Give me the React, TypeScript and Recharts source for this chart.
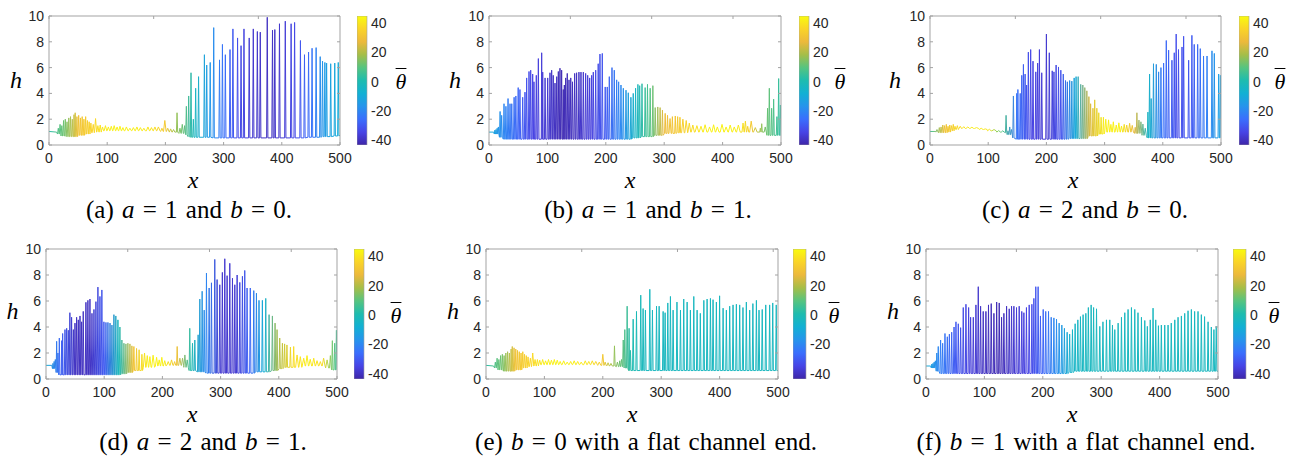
import React from "react";
import { LineChart, Line, XAxis, YAxis, BarChart, Bar } from "recharts";

type Pair = [number, number];

// ---- values ----
const xTicks = [0, 100, 200, 300, 400, 500];
const hTicks = [0, 2, 4, 6, 8, 10];
const cbTicks = [-40, -20, 0, 20, 40];
const cbRange: Pair = [-43.5, 45];

// positions where the colour (theta bar) is sampled along x
const thetaX = [0, 25, 50, 75, 100, 125, 150, 175, 200, 225, 250, 275, 300, 325, 350, 375, 400, 425, 450, 475, 500];

// (a) a = 1, b = 0
const aStart: Pair[] = [[0, 1.05], [13, 1.0]];
const aEnd: Pair[] = [[500, 0.75]];
const aBase: Pair[] = [[0, 1.0], [15, 0.85], [22, 0.7], [30, 0.65], [50, 0.75], [62, 0.85], [70, 0.95], [80, 1.0], [90, 1.1], [190, 1.05], [205, 1.0], [225, 0.9], [234, 0.8], [240, 0.65], [244, 0.6], [280, 0.55], [445, 0.6], [470, 0.65], [488, 0.7]];
const aSpikes: Pair[] = [[16, 1.3], [19, 1.6], [22, 1.5], [25, 1.9], [28, 2.0], [31, 1.8], [34, 2.1], [37, 2.2], [40, 2.0], [43, 2.35], [45, 2.5], [48, 2.2], [51, 2.3], [54, 2.1], [57, 2.2], [60, 2.0], [63, 2.2], [66, 1.9], [69, 1.8], [72, 1.7], [76, 1.6], [80, 2.05], [84, 1.5], [88, 1.55], [92, 1.4], [97, 1.5], [102, 1.4], [107, 1.45], [112, 1.5], [117, 1.4], [122, 1.45], [127, 1.35], [133, 1.4], [139, 1.3], [145, 1.35], [151, 1.4], [157, 1.35], [163, 1.3], [170, 1.4], [176, 1.35], [182, 1.4], [188, 1.4], [194, 1.3], [199, 1.9], [204, 1.3], [209, 1.25], [214, 1.2], [220, 2.5], [225, 1.3], [229, 1.6], [233, 1.5], [236, 3.0], [240, 3.8], [244, 5.6], [248, 2.0], [252, 4.4], [257, 5.3], [267, 7.0], [271, 6.2], [277, 6.4], [283, 9.1], [293, 6.6], [298, 7.8], [303, 7.0], [311, 7.4], [316, 9.0], [324, 8.3], [330, 7.7], [335, 9.0], [344, 8.3], [351, 9.0], [358, 8.8], [363, 8.75], [375, 9.9], [384, 8.9], [388, 8.95], [396, 9.4], [406, 9.6], [416, 9.4], [422, 9.5], [432, 8.1], [439, 7.0], [446, 7.2], [452, 7.5], [459, 7.55], [466, 6.85], [470, 6.5], [474, 6.4], [477, 6.35], [484, 6.3], [491, 6.35], [497, 6.4]];
const aTheta = [2, 12, 30, 36, 42, 43, 42, 40, 32, 14, -3, -15, -25, -33, -38, -40, -38, -33, -25, -14, -9];

// (b) a = 1, b = 1
const bStart: Pair[] = [[0, 1.0], [8, 1.0]];
const bEnd: Pair[] = [[500, 0.7]];
const bBase: Pair[] = [[0, 0.95], [9, 0.85], [17, 0.6], [22, 0.45], [245, 0.55], [262, 0.65], [282, 0.75], [300, 0.9], [320, 0.95], [340, 1.0], [474, 0.75]];
const bSpikes: Pair[] = [[10, 1.15], [12, 1.2], [14, 1.3], [16, 1.4], [19, 2.6], [21.7, 2.3], [25.7, 3.2], [29, 3.0], [32.6, 3.6], [36, 3.2], [39, 3.2], [43, 3.7], [46, 3.8], [50, 4.45], [53, 4.3], [57.7, 3.7], [61.6, 4.1], [64.5, 5.2], [68.5, 5.7], [71.4, 5.8], [74.8, 5.5], [77, 4.9], [81, 5.4], [84.5, 6.7], [90.2, 7.15], [92, 5.65], [96, 5.2], [100.5, 5.2], [104.4, 5.6], [107.3, 5.8], [110, 5.4], [113, 4.8], [116, 5.3], [118.7, 5.7], [121.5, 5.95], [124.4, 5.8], [127.2, 4.3], [129, 4.65], [131.3, 5.2], [134, 5.55], [137, 5.05], [140, 5.2], [143, 4.9], [146.7, 5.55], [150, 5.6], [154, 5.65], [157.5, 5.65], [161.5, 5.65], [165.5, 5.55], [169, 5.4], [172.4, 5.2], [175.8, 5.4], [178.6, 5.65], [182.7, 5.8], [187, 6.3], [190, 7.05], [194, 7.1], [199, 4.5], [202.5, 4.5], [206, 5.3], [210.6, 6.0], [214.5, 5.8], [218.6, 5.05], [222, 4.9], [226, 4.65], [230, 4.4], [234.6, 4.25], [238.5, 4.05], [243, 3.7], [247, 4.0], [251, 4.4], [255, 4.7], [258, 4.6], [262, 4.75], [267.4, 4.45], [271.4, 4.7], [276, 4.4], [280.6, 4.6], [284.6, 2.9], [289, 2.95], [293, 2.9], [297, 2.7], [301.7, 2.45], [305.7, 2.3], [310, 2.05], [314, 2.2], [319, 2.25], [323, 2.2], [327, 2.15], [332, 2.0], [337.7, 1.9], [343, 1.7], [349, 1.55], [356, 1.5], [363, 1.45], [370, 1.57], [377.7, 1.4], [384.6, 1.57], [391, 1.4], [399, 1.6], [406, 1.4], [413, 1.55], [420, 1.4], [427, 1.55], [435, 1.7], [439, 1.85], [443, 1.45], [449, 1.85], [456, 1.35], [464.6, 1.3], [467, 1.65], [473, 1.4], [477, 2.85], [480, 4.4], [484, 2.85], [487.4, 3.55], [493, 2.2], [496, 5.15], [499, 3.1]];
const bTheta = [-8, -20, -28, -35, -38, -42, -40, -36, -30, -20, -5, 8, 28, 33, 38, 43, 43, 42, 32, 12, 3];

// (c) a = 2, b = 0
const cStart: Pair[] = [[0, 1.05], [10, 1.05]];
const cEnd: Pair[] = [[500, 0.55]];
const cBase: Pair[] = [[0, 1.0], [14, 0.95], [30, 1.0], [36, 1.1], [42, 1.2], [50, 1.28], [85, 1.2], [100, 1.1], [118, 1.0], [128, 0.95], [133, 0.8], [142, 0.55], [147, 0.45], [238, 0.5], [272, 0.7], [290, 0.85], [300, 1.0], [352, 0.9], [365, 0.75], [374, 0.55]];
const cSpikes: Pair[] = [[12, 1.2], [16, 1.35], [19, 1.4], [22, 1.55], [25, 1.5], [28, 1.6], [31, 1.45], [34, 1.55], [37, 1.5], [40, 1.6], [43, 1.45], [47, 1.5], [52, 1.45], [58, 1.42], [65, 1.4], [72, 1.38], [80, 1.35], [88, 1.3], [95, 1.25], [102, 1.22], [110, 1.2], [118, 1.12], [125, 1.1], [130.7, 2.3], [134, 1.1], [137, 1.4], [140, 1.2], [143.3, 3.8], [149, 4.0], [151, 4.3], [155, 4.0], [157.7, 5.4], [160.5, 6.25], [163.4, 5.5], [166, 4.65], [169, 7.2], [173, 7.4], [177, 6.5], [181.8, 5.67], [185, 6.35], [188, 7.4], [192, 5.6], [200, 8.6], [205, 7.15], [210, 5.75], [213, 5.67], [216.7, 6.2], [220.8, 6.05], [224.8, 5.8], [229, 5.5], [232.8, 5.0], [236, 4.9], [240, 5.0], [243.7, 4.95], [247.7, 5.2], [251, 5.3], [254.6, 5.3], [259, 4.7], [262.6, 4.65], [266, 4.45], [269.5, 4.2], [273, 3.75], [276, 3.2], [280, 2.85], [283, 3.5], [286.7, 2.85], [290, 2.5], [294, 2.15], [298, 2.15], [302, 2.0], [306.8, 1.95], [310.8, 1.6], [315, 1.8], [320, 1.55], [324.5, 1.72], [329, 1.47], [333.7, 1.6], [338, 1.55], [343, 1.68], [347.5, 1.52], [352.6, 1.37], [355.5, 2.5], [359, 1.93], [362.4, 1.8], [365.8, 1.62], [369.8, 1.3], [374.4, 2.55], [377.3, 5.5], [380, 3.6], [384, 6.3], [388.8, 6.25], [392.8, 5.67], [396.8, 6.0], [401.4, 6.35], [406, 8.1], [410, 7.35], [415.7, 6.57], [419.7, 7.15], [423, 8.6], [427, 7.4], [433, 7.6], [435.8, 8.43], [444.4, 6.57], [450, 8.5], [454, 7.8], [459.9, 7.8], [464.4, 7.47], [470, 6.9], [476, 6.9], [484.5, 7.3], [488.5, 7.1], [496, 5.5], [499, 5.4]];
const cTheta = [5, 30, 38, 42, 40, 8, -25, -35, -38, -32, -10, 25, 42, 43, 28, -5, -25, -33, -30, -22, -12];

// (d) a = 2, b = 1
const dStart: Pair[] = [[0, 1.05], [10, 1.05]];
const dEnd: Pair[] = [[500, 0.7]];
const dBase: Pair[] = [[0, 1.0], [11, 0.8], [17, 0.5], [22, 0.32], [128, 0.4], [140, 0.5], [150, 0.65], [165, 0.9], [185, 1.0], [205, 1.05], [235, 0.9], [244, 0.65], [258, 0.55], [272, 0.45], [360, 0.55], [385, 0.65], [398, 0.8], [410, 0.9], [440, 1.0], [480, 0.85], [492, 0.7]];
const dSpikes: Pair[] = [[12, 1.2], [14, 1.35], [16, 1.5], [18.3, 2.9], [20.5, 2.0], [22.9, 3.15], [26.9, 2.95], [28.6, 3.5], [32.6, 3.8], [35.5, 3.9], [38.3, 3.75], [41, 5.1], [44, 4.75], [47, 3.8], [49.8, 4.3], [52.6, 4.75], [55.5, 4.55], [58.4, 4.85], [61.2, 4.4], [64, 5.2], [68.6, 5.9], [72, 6.05], [75.5, 6.15], [79, 5.05], [82.4, 5.35], [85.8, 5.95], [89.2, 7.07], [92.7, 6.35], [96, 6.85], [99.5, 4.4], [103, 4.35], [106.4, 4.35], [110, 4.3], [113.3, 4.15], [116.7, 4.95], [120, 4.85], [123.6, 4.55], [127, 4.0], [130.4, 3.0], [133.9, 2.75], [137.3, 2.7], [140.7, 2.75], [144.2, 2.7], [147.6, 2.55], [151, 2.5], [155.6, 2.35], [160, 2.25], [164.8, 1.9], [169.3, 2.0], [174, 1.8], [178.5, 1.72], [184, 1.83], [190, 1.67], [194.5, 1.47], [199, 1.67], [204, 1.41], [210, 1.34], [215.7, 1.47], [221, 1.34], [225.4, 2.5], [230, 1.6], [234.6, 1.6], [238.6, 1.85], [242.6, 1.47], [247, 3.9], [251.7, 2.75], [255.7, 3.0], [261.4, 3.4], [264.3, 6.15], [268.3, 6.75], [271.8, 5.3], [275.7, 8.15], [280.3, 7.0], [284.3, 7.4], [290, 9.2], [294, 7.65], [298.6, 7.25], [303, 8.2], [307.2, 9.25], [311.2, 7.95], [315.8, 8.9], [320.4, 7.75], [324.4, 7.25], [328.4, 8.0], [333, 7.43], [337.5, 7.9], [341.5, 8.35], [345.5, 7.0], [351, 7.0], [357, 6.8], [361.6, 6.6], [366, 6.05], [371.8, 6.05], [377.6, 6.2], [383.3, 4.95], [389, 4.85], [393.6, 4.3], [397, 3.8], [401.6, 3.15], [406.2, 2.75], [410, 2.7], [414, 2.62], [420, 2.45], [425.6, 2.5], [431.4, 1.85], [437, 1.72], [442.8, 1.6], [448.5, 1.8], [454, 1.52], [460, 1.6], [465.7, 1.41], [471.4, 1.34], [477, 1.6], [483, 1.47], [488.6, 1.8], [492, 2.95], [496, 2.75], [499, 3.75]];
const dTheta = [-8, -28, -40, -40, -30, -2, 30, 42, 43, 30, 0, -20, -38, -38, -28, -8, 20, 38, 42, 38, 5];

// (e) b = 0, flat channel end
const eStart: Pair[] = [[0, 1.05], [13, 1.0]];
const eEnd: Pair[] = [[500, 0.65]];
const eBase: Pair[] = [[0, 1.0], [15, 0.85], [22, 0.7], [30, 0.6], [50, 0.7], [62, 0.85], [70, 0.95], [80, 1.0], [90, 1.1], [190, 1.05], [205, 1.0], [225, 0.95], [236, 0.85], [245, 0.65]];
const eSpikes: Pair[] = [[16, 1.3], [19, 1.6], [22, 1.5], [25, 1.8], [28, 1.9], [31, 1.8], [34, 2.0], [37, 2.1], [40, 2.0], [43, 2.3], [45, 2.5], [48, 2.4], [51, 2.3], [54, 2.2], [57, 2.1], [60, 2.0], [63, 2.1], [66, 1.9], [69, 1.8], [72, 1.7], [76, 1.6], [80, 2.0], [84, 1.5], [88, 1.5], [92, 1.45], [97, 1.5], [102, 1.4], [107, 1.5], [112, 1.45], [117, 1.5], [122, 1.45], [127, 1.35], [133, 1.4], [139, 1.3], [145, 1.35], [151, 1.4], [157, 1.35], [163, 1.3], [170, 1.4], [176, 1.35], [182, 1.4], [188, 1.35], [194, 1.3], [200, 1.9], [204, 1.3], [209, 1.25], [214, 1.2], [220, 2.55], [225, 1.3], [229, 1.4], [232, 1.5], [235, 3.0], [237.7, 3.8], [241.7, 5.6], [245, 3.9], [247.4, 2.2], [252, 4.6], [257.7, 5.2], [265, 6.45], [269, 5.42], [273, 5.3], [280.5, 6.9], [285, 5.3], [292, 5.6], [296.5, 5.6], [303.3, 5.2], [306.7, 5.1], [311.3, 5.85], [315.8, 6.35], [320.4, 5.3], [327, 5.92], [333, 5.3], [338.6, 6.15], [344.4, 5.92], [350, 5.3], [355.8, 6.35], [361.5, 5.3], [367, 5.05], [373, 6.05], [378.6, 6.15], [384.3, 6.2], [388.8, 6.1], [394.5, 5.92], [400, 6.4], [406, 5.45], [411.6, 5.3], [417.3, 5.6], [423, 5.7], [428.7, 5.75], [434.4, 5.7], [440, 5.5], [445.8, 5.92], [451.5, 5.3], [457, 5.8], [463, 6.05], [467.5, 5.3], [473, 5.35], [479, 5.7], [485.7, 5.7], [491, 5.85], [497, 5.7]];
const eTheta = [2, 12, 30, 36, 42, 43, 42, 40, 32, 14, 0, -3, -3, -3, -3, -3, -3, -3, -3, -3, -3];

// (f) b = 1, flat channel end
const fStart: Pair[] = [[0, 1.0], [8, 1.0]];
const fEnd: Pair[] = [[500, 0.6]];
const fBase: Pair[] = [[0, 0.95], [9, 0.85], [17, 0.6], [22, 0.42], [244, 0.5], [252, 0.6]];
const fSpikes: Pair[] = [[10, 1.15], [12, 1.2], [14, 1.3], [16, 1.4], [18.5, 2.0], [21, 2.5], [25, 3.0], [28.5, 2.75], [32.5, 3.5], [36.5, 3.25], [40, 3.45], [44, 3.6], [48, 4.0], [51.3, 4.4], [55.3, 4.25], [59.3, 3.95], [63.8, 5.5], [68.4, 5.75], [73, 5.5], [76.4, 4.75], [81, 4.75], [85.5, 5.7], [89.5, 7.1], [93.5, 5.6], [98, 5.2], [102.6, 5.2], [107, 5.7], [111.7, 5.8], [116.3, 5.05], [121, 5.92], [125.4, 5.85], [129.4, 4.75], [133.4, 5.05], [138, 5.6], [142.5, 5.4], [146.5, 5.6], [150.5, 5.6], [155, 5.5], [159.6, 5.6], [164, 5.2], [167.6, 5.1], [172, 5.5], [176.7, 5.7], [181.3, 5.75], [184.7, 6.2], [188, 7.1], [192, 7.1], [196, 4.85], [200.7, 5.35], [205, 5.2], [209.8, 5.2], [214.4, 4.75], [219, 4.7], [223.5, 4.6], [228, 4.3], [232.6, 4.15], [237, 3.9], [241.7, 3.6], [246, 3.45], [250.8, 3.8], [255.4, 4.25], [260, 4.55], [264.5, 4.8], [269, 4.95], [273.7, 5.05], [278, 5.5], [282.8, 5.7], [287, 5.5], [292, 5.4], [297.6, 4.05], [303, 4.4], [309, 4.55], [314.7, 4.55], [319.3, 4.15], [323.3, 3.8], [329, 4.3], [334.7, 4.75], [340.4, 5.1], [346, 5.35], [351.8, 5.5], [357.5, 5.35], [363, 5.1], [368.9, 4.75], [374.6, 4.5], [379, 4.05], [384, 4.55], [388.8, 5.45], [393.4, 4.55], [398, 4.1], [403, 4.15], [408.8, 4.15], [414.5, 4.15], [420, 4.3], [426, 4.55], [431.6, 4.75], [437.3, 4.85], [443, 5.05], [448.7, 5.25], [454.4, 5.35], [460, 5.2], [465.8, 5.2], [471.5, 4.95], [477, 4.8], [483, 4.4], [488.6, 4.0], [493, 3.8], [497, 4.05]];
const fTheta = [-8, -22, -30, -36, -40, -42, -38, -35, -28, -18, -5, -3, -3, -3, -3, -3, -3, -3, -3, -3, -3];

// ---- styling ----
const AXIS = "#a3a3a3";
const INK = "#262626";
const SANS = '"Liberation Sans", Arial, Helvetica, sans-serif';
const SERIF = '"Liberation Serif", "Times New Roman", Times, serif';

const PARULA: [number, number[]][] = [
  [0.0, [62, 38, 168]],
  [0.1, [71, 68, 230]],
  [0.2, [58, 110, 253]],
  [0.3, [38, 148, 236]],
  [0.4, [18, 176, 212]],
  [0.5, [30, 188, 175]],
  [0.6, [86, 196, 128]],
  [0.7, [165, 190, 72]],
  [0.8, [236, 185, 60]],
  [0.9, [250, 212, 40]],
  [1.0, [249, 251, 14]],
];

const parula = (t: number) => {
  const v = Math.max(0, Math.min(1, t));
  let i = 0;
  while (i < PARULA.length - 2 && v > PARULA[i + 1][0]) i++;
  const [t0, c0] = PARULA[i];
  const [t1, c1] = PARULA[i + 1];
  const k = (v - t0) / (t1 - t0);
  const c = c0.map((x, j) => Math.round(x + (c1[j] - x) * k));
  return `rgb(${c[0]},${c[1]},${c[2]})`;
};
const thetaColor = (th: number) => parula((th - cbRange[0]) / (cbRange[1] - cbRange[0]));

function buildLine(start: Pair[], spikes: Pair[], base: Pair[], end: Pair[]) {
  const level = (x: number) => {
    let v = base[0][1];
    for (const [bx, bh] of base) if (bx <= x) v = bh;
    return v;
  };
  const pts = start.map(([x, h]) => ({ x, h }));
  spikes.forEach(([x, h], i) => {
    const b = level(x);
    const prev = i > 0 ? spikes[i - 1][0] : x - 4;
    const next = i < spikes.length - 1 ? spikes[i + 1][0] : x + 4;
    const gap = Math.min(x - prev, next - x);
    const w = h - b < 1.2 ? gap * 0.45 : Math.min(1.1, gap * 0.4);
    pts.push({ x: x - w, h: b }, { x, h }, { x: Math.min(x + w, 500), h: b });
  });
  end.forEach(([x, h]) => pts.push({ x, h }));
  return pts;
}

const BottomTick = (p: any) => (
  <g>
    <line x1={p.x} x2={p.x} y1={p.y} y2={p.y - 3} stroke={AXIS} />
    <text x={p.x} y={p.y + 18} textAnchor="middle" fontFamily={SANS} fontSize={14} fill={INK}>
      {p.payload.value}
    </text>
  </g>
);
const TopTick = (p: any) => <line x1={p.x} x2={p.x} y1={p.y} y2={p.y + 3} stroke={AXIS} />;
const LeftTick = (p: any) => (
  <g>
    <line x1={p.x} x2={p.x + 3} y1={p.y} y2={p.y} stroke={AXIS} />
    <text x={p.x - 5} y={p.y + 5} textAnchor="end" fontFamily={SANS} fontSize={14} fill={INK}>
      {p.payload.value}
    </text>
  </g>
);
const RightTick = (p: any) => <line x1={p.x} x2={p.x - 3} y1={p.y} y2={p.y} stroke={AXIS} />;
const CbTick = (p: any) => (
  <text x={p.x + 4} y={p.y + 5} textAnchor="start" fontFamily={SANS} fontSize={14} fill={INK}>
    {p.payload.value}
  </text>
);

const Txt = ({ cx, cy, size, italic, spacing, children }: any) => (
  <div
    style={{
      position: "absolute",
      left: cx,
      top: cy,
      transform: "translate(-50%, -50%)",
      fontFamily: SERIF,
      fontSize: size,
      lineHeight: `${size}px`,
      fontStyle: italic ? "italic" : "normal",
      wordSpacing: spacing || 0,
      whiteSpace: "nowrap",
      color: "#000",
    }}
  >
    {children}
  </div>
);

const panels = [
  { id: "a", start: aStart, spikes: aSpikes, base: aBase, end: aEnd, theta: aTheta, l: 49, t: 16, w: 291, h: 129, cbl: 357, cbw: 10, cap: [189, 209], hl: [16, 80], xl: [193, 179.5], tl: [401, 81], caption: <>(a) <i>a</i> = 1 and <i>b</i> = 0.</> },
  { id: "b", start: bStart, spikes: bSpikes, base: bBase, end: bEnd, theta: bTheta, l: 489, t: 16, w: 292, h: 129, cbl: 799, cbw: 10, cap: [648, 209], hl: [455, 80], xl: [630, 179.5], tl: [840, 81], caption: <>(b) <i>a</i> = 1 and <i>b</i> = 1.</> },
  { id: "c", start: cStart, spikes: cSpikes, base: cBase, end: cEnd, theta: cTheta, l: 930, t: 16, w: 291, h: 129, cbl: 1239, cbw: 10, cap: [1085, 209], hl: [895, 80], xl: [1073, 179.5], tl: [1280, 81], caption: <>(c) <i>a</i> = 2 and <i>b</i> = 0.</> },
  { id: "d", start: dStart, spikes: dSpikes, base: dBase, end: dEnd, theta: dTheta, l: 46, t: 249, w: 291, h: 130, cbl: 354, cbw: 10, cap: [203, 441], hl: [12.5, 311], xl: [192, 414], tl: [396, 315], caption: <>(d) <i>a</i> = 2 and <i>b</i> = 1.</> },
  { id: "e", start: eStart, spikes: eSpikes, base: eBase, end: eEnd, theta: eTheta, l: 486, t: 249, w: 292, h: 130, cbl: 793, cbw: 13, cap: [646, 441], hl: [453, 311], xl: [632, 414], tl: [834, 315], caption: <>(e) <i>b</i> = 0 with a flat channel end.</> },
  { id: "f", start: fStart, spikes: fSpikes, base: fBase, end: fEnd, theta: fTheta, l: 926, t: 249, w: 292, h: 130, cbl: 1233, cbw: 13, cap: [1086, 441], hl: [893, 311], xl: [1072, 414], tl: [1274, 315], caption: <>(f) <i>b</i> = 1 with a flat channel end.</> },
];

const cbStops = PARULA.map(([t]) => t);

function Panel({ p }: any) {
  const data = buildLine(p.start, p.spikes, p.base, p.end);
  const gid = `line-${p.id}`;
  const cid = `cbar-${p.id}`;
  return (
    <>
      <div style={{ position: "absolute", left: p.l - 40, top: p.t - 8 }}>
        <LineChart width={p.w + 60} height={p.h + 36} data={data} margin={{ top: 0, right: 0, bottom: 0, left: 0 }}>
          <defs>
            <linearGradient id={gid} x1="0" y1="0" x2="1" y2="0">
              {p.theta.map((th: number, i: number) => (
                <stop key={i} offset={thetaX[i] / 500} stopColor={thetaColor(th)} />
              ))}
            </linearGradient>
          </defs>
          <XAxis dataKey="x" type="number" domain={[0, 500]} ticks={xTicks} interval={0} height={28} tickSize={0} tickMargin={0} tickLine={false} axisLine={{ stroke: AXIS }} tick={BottomTick} allowDataOverflow />
          <XAxis xAxisId="top" orientation="top" type="number" domain={[0, 500]} ticks={xTicks} interval={0} height={8} tickSize={0} tickMargin={0} tickLine={false} axisLine={{ stroke: AXIS }} tick={TopTick} allowDataOverflow />
          <YAxis type="number" domain={[0, 10]} ticks={hTicks} interval={0} width={40} tickSize={0} tickMargin={0} tickLine={false} axisLine={{ stroke: AXIS }} tick={LeftTick} allowDataOverflow />
          <YAxis yAxisId="r" orientation="right" type="number" domain={[0, 10]} ticks={hTicks} interval={0} width={20} tickSize={0} tickMargin={0} tickLine={false} axisLine={{ stroke: AXIS }} tick={RightTick} allowDataOverflow />
          <Line dataKey="h" type="linear" stroke={`url(#${gid})`} strokeWidth={1} dot={false} activeDot={false} isAnimationActive={false} />
        </LineChart>
      </div>
      <div style={{ position: "absolute", left: p.cbl, top: p.t - 8 }}>
        <BarChart width={p.cbw + 40} height={p.h + 16} data={[{ k: "cb", v: cbRange }]} margin={{ top: 8, right: 0, bottom: 8, left: 0 }} barCategoryGap={0}>
          <defs>
            <linearGradient id={cid} x1="0" y1="1" x2="0" y2="0">
              {cbStops.map((t, i) => (
                <stop key={i} offset={t} stopColor={parula(t)} />
              ))}
            </linearGradient>
          </defs>
          <XAxis dataKey="k" hide />
          <YAxis orientation="right" type="number" domain={cbRange} ticks={cbTicks} interval={0} width={40} tickSize={0} tickMargin={0} tickLine={false} axisLine={false} tick={CbTick} allowDataOverflow />
          <Bar dataKey="v" fill={`url(#${cid})`} stroke={AXIS} strokeWidth={0.6} isAnimationActive={false} />
        </BarChart>
      </div>
      <Txt cx={p.hl[0]} cy={p.hl[1]} size={24} italic>h</Txt>
      <Txt cx={p.xl[0]} cy={p.xl[1]} size={24} italic>x</Txt>
      <Txt cx={p.tl[0]} cy={p.tl[1] + 1} size={22} italic>
        <span style={{ textDecoration: "overline", textDecorationThickness: 1 }}>θ</span>
      </Txt>
      <Txt cx={p.cap[0]} cy={p.cap[1]} size={25} spacing={2}>{p.caption}</Txt>
    </>
  );
}

export default function App() {
  return (
    <div style={{ position: "absolute", left: 0, top: 0, width: 1303, height: 460, background: "#fff", overflow: "hidden" }}>
      {panels.map((p) => (
        <Panel key={p.id} p={p} />
      ))}
    </div>
  );
}
